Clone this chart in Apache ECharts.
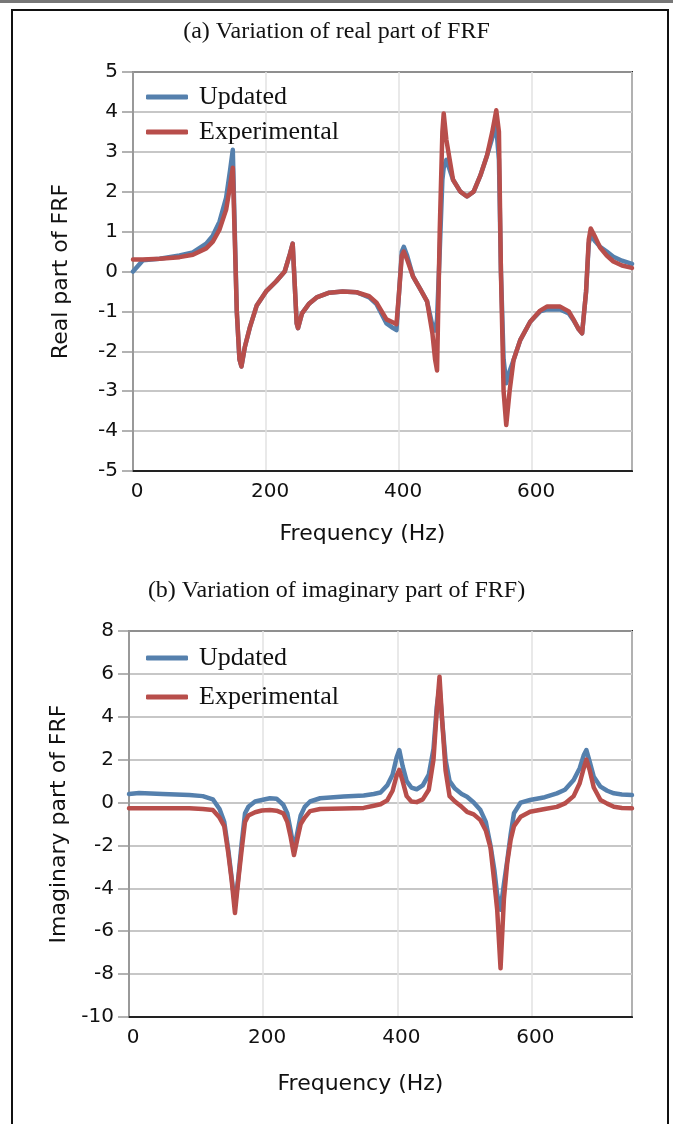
<!DOCTYPE html>
<html>
<head>
<meta charset="utf-8">
<title>FRF comparison</title>
<script src="https://cdn.jsdelivr.net/npm/echarts@6/dist/echarts.min.js"></script>
<style>
  html, body { margin: 0; padding: 0; background: #fff; }
  #chart { width: 673px; height: 1124px; }
</style>
</head>
<body>
<div id="chart"></div>
<script>
// (a) real part of FRF
var realFreq = [0, 15, 40, 70, 90, 110, 120, 130, 140, 146, 150, 153, 156, 160, 163, 168, 176, 186, 200, 215,
  228, 236, 240, 243, 246, 248, 254, 265, 276, 295, 315, 336, 355, 366, 381, 391, 396, 400, 404, 407,
  412, 421, 432, 442, 450, 454, 457, 461, 465, 467, 471, 481, 492, 502, 512, 522, 532, 540, 546, 550,
  553, 557, 561, 566, 572, 582, 597, 612, 622, 642, 655, 662, 670, 675, 681, 685, 688, 695, 702, 712,
  722, 735, 750];
var realUpdated = [0.0, 0.28, 0.32, 0.40, 0.48, 0.70, 0.90, 1.25, 1.85, 2.55, 3.05, 1.0, -1.0, -2.2, -2.38, -1.9, -1.38, -0.85, -0.5, -0.25,
  0.0, 0.45, 0.70, -0.3, -1.3, -1.42, -1.05, -0.8, -0.65, -0.53, -0.5, -0.52, -0.65, -0.82, -1.3, -1.42, -1.47, -0.5, 0.5, 0.62,
  0.4, -0.13, -0.45, -0.75, -1.35, -1.48, -1.2, 0.5, 2.3, 2.6, 2.8, 2.3, 2.0, 1.88, 2.0, 2.4, 2.9, 3.35, 3.62, 2.8,
  0.0, -2.2, -2.8, -2.5, -2.22, -1.72, -1.26, -1.0, -0.95, -0.95, -1.05, -1.22, -1.45, -1.55, -0.5, 0.7, 0.91, 0.75, 0.62, 0.5,
  0.37, 0.27, 0.19];
var realExperimental = [0.30, 0.30, 0.32, 0.36, 0.42, 0.58, 0.75, 1.05, 1.55, 2.15, 2.60, 0.8, -1.0, -2.2, -2.38, -1.9, -1.38, -0.85, -0.5, -0.25,
  0.0, 0.45, 0.70, -0.3, -1.3, -1.42, -1.05, -0.8, -0.65, -0.53, -0.5, -0.52, -0.62, -0.78, -1.2, -1.28, -1.32, -0.5, 0.4, 0.5,
  0.3, -0.13, -0.45, -0.75, -1.55, -2.2, -2.48, 1.0, 3.5, 3.96, 3.3, 2.3, 2.0, 1.88, 2.0, 2.4, 2.9, 3.5, 4.04, 3.5,
  0.0, -3.0, -3.85, -3.0, -2.22, -1.72, -1.26, -0.98, -0.88, -0.88, -1.0, -1.2, -1.45, -1.55, -0.5, 0.8, 1.08, 0.85, 0.6, 0.4,
  0.25, 0.15, 0.09];

// (b) imaginary part of FRF
var imagFreq = [0, 15, 50, 90, 110, 125, 135, 142, 148, 153, 158, 163, 168, 173, 178, 188, 198, 210, 220, 230,
  236, 241, 246, 251, 256, 262, 270, 285, 320, 350, 365, 375, 385, 393, 399, 403, 408, 414, 421, 429,
  438, 447, 454, 459, 463, 467, 472, 478, 486, 496, 504, 514, 524, 532, 539, 545, 549, 554, 559, 564,
  569, 574, 584, 598, 620, 638, 650, 663, 672, 678, 682, 687, 693, 703, 713, 723, 735, 750];
var imagUpdated = [0.40, 0.45, 0.40, 0.35, 0.30, 0.15, -0.3, -0.9, -2.2, -3.5, -4.8, -3.5, -1.9, -0.5, -0.2, 0.05, 0.12, 0.2, 0.18, -0.1,
  -0.5, -1.3, -2.2, -1.4, -0.6, -0.2, 0.05, 0.2, 0.28, 0.33, 0.4, 0.47, 0.8, 1.3, 2.1, 2.45, 1.7, 1.0, 0.7, 0.62,
  0.8, 1.3, 2.5, 4.5, 5.4, 3.8, 2.0, 1.0, 0.65, 0.4, 0.27, 0.0, -0.35, -0.9, -2.0, -3.2, -4.3, -5.0, -3.8, -2.7,
  -1.5, -0.5, 0.0, 0.12, 0.25, 0.43, 0.6, 1.05, 1.6, 2.2, 2.45, 1.9, 1.2, 0.74, 0.55, 0.43, 0.38, 0.35];
var imagExperimental = [-0.27, -0.27, -0.27, -0.27, -0.30, -0.35, -0.7, -1.1, -2.35, -3.6, -5.15, -3.6, -2.2, -0.9, -0.6, -0.45, -0.37, -0.35, -0.38, -0.5,
  -0.9, -1.6, -2.45, -1.7, -1.0, -0.7, -0.4, -0.3, -0.28, -0.25, -0.15, -0.08, 0.1, 0.55, 1.25, 1.52, 1.0, 0.3, 0.05, 0.02,
  0.15, 0.6, 2.0, 4.3, 5.87, 3.8, 1.5, 0.3, 0.05, -0.2, -0.43, -0.55, -0.82, -1.3, -2.1, -3.8, -5.0, -7.73, -4.5, -2.8,
  -1.75, -1.1, -0.66, -0.43, -0.3, -0.2, -0.04, 0.3, 0.9, 1.6, 2.0, 1.5, 0.7, 0.12, -0.05, -0.2, -0.25, -0.27];

var blue = '#5580ad';
var red = '#b84e4b';

function pairs(xs, ys) {
  return xs.map(function (x, i) { return [x, ys[i]]; });
}

var tickFont = { fontFamily: 'DejaVu Sans', fontSize: 20, color: '#111' };
var nameFont = { fontFamily: 'DejaVu Sans', fontSize: 22, color: '#111' };
var serif = 'Liberation Serif';

function xAxisFor(idx, gap) {
  return {
    gridIndex: idx, type: 'value', min: 0, max: 750, interval: 200,
    name: 'Frequency (Hz)', nameLocation: 'middle', nameGap: gap,
    nameTextStyle: Object.assign({ padding: [0, 40, 0, 0] }, nameFont),
    axisLine: { onZero: false, lineStyle: { color: '#222', width: 2 } },
    axisTick: { show: false },
    axisLabel: Object.assign({ margin: 11, showMaxLabel: false, padding: [0, 0, 0, 8] }, tickFont),
    splitLine: { show: true, lineStyle: { color: '#e2e2e2', width: 1.5 } }
  };
}

function yAxisFor(idx, min, max, step, name, gap) {
  return {
    gridIndex: idx, type: 'value', min: min, max: max, interval: step,
    name: name, nameLocation: 'middle', nameGap: gap, nameTextStyle: nameFont,
    axisLine: { show: true, onZero: false, lineStyle: { color: '#999', width: 2 } },
    axisTick: { show: true, length: 11, lineStyle: { color: '#999', width: 1.5 } },
    axisLabel: Object.assign({ margin: 15 }, tickFont),
    splitLine: { show: true, lineStyle: { color: '#b4b4b4', width: 1.5 } }
  };
}

function lineSeries(name, idx, data, color) {
  return {
    name: name, type: 'line', xAxisIndex: idx, yAxisIndex: idx,
    data: data, symbol: 'none', smooth: false,
    lineStyle: { color: color, width: 4.5, cap: 'round', join: 'round' },
    itemStyle: { color: color }
  };
}

function legendFor(top, gap) {
  return {
    orient: 'vertical', left: 141, top: top, itemGap: gap,
    icon: 'roundRect', itemWidth: 42, itemHeight: 5,
    data: ['Updated', 'Experimental'],
    textStyle: { fontFamily: serif, fontSize: 26, color: '#111', padding: [0, 0, 0, 6] }
  };
}

var chart = echarts.init(document.getElementById('chart'), null, { renderer: 'canvas' });

chart.setOption({
  backgroundColor: '#fff',
  animation: false,
  title: [
    { text: '(a) Variation of real part of FRF', left: 'center', top: 15,
      textStyle: { fontFamily: serif, fontSize: 24, fontWeight: 'normal', color: '#111' } },
    { text: '(b) Variation of imaginary part of FRF)', left: 'center', top: 574,
      textStyle: { fontFamily: serif, fontSize: 24, fontWeight: 'normal', color: '#111' } }
  ],
  legend: [legendFor(79, 9), legendFor(640, 13)],
  grid: [
    { left: 133, top: 72, width: 499, height: 399, show: true, borderColor: '#222', borderWidth: 2, backgroundColor: 'transparent' },
    { left: 129, top: 631, width: 503, height: 386, show: true, borderColor: '#222', borderWidth: 2, backgroundColor: 'transparent' }
  ],
  xAxis: [xAxisFor(0, 52), xAxisFor(1, 56)],
  yAxis: [
    yAxisFor(0, -5, 5, 1, 'Real part of FRF', 61),
    yAxisFor(1, -10, 8, 2, 'Imaginary part of FRF', 57)
  ],
  series: [
    lineSeries('Updated', 0, pairs(realFreq, realUpdated), blue),
    lineSeries('Experimental', 0, pairs(realFreq, realExperimental), red),
    lineSeries('Updated', 1, pairs(imagFreq, imagUpdated), blue),
    lineSeries('Experimental', 1, pairs(imagFreq, imagExperimental), red)
  ],
  graphic: [
    // page frame
    { type: 'rect', shape: { x: 0, y: 0, width: 673, height: 3 }, style: { fill: '#777' }, silent: true },
    { type: 'rect', shape: { x: 12, y: 10, width: 656, height: 1130 },
      style: { fill: 'none', stroke: '#111', lineWidth: 2 }, silent: true }
  ]
});
</script>
</body>
</html>
